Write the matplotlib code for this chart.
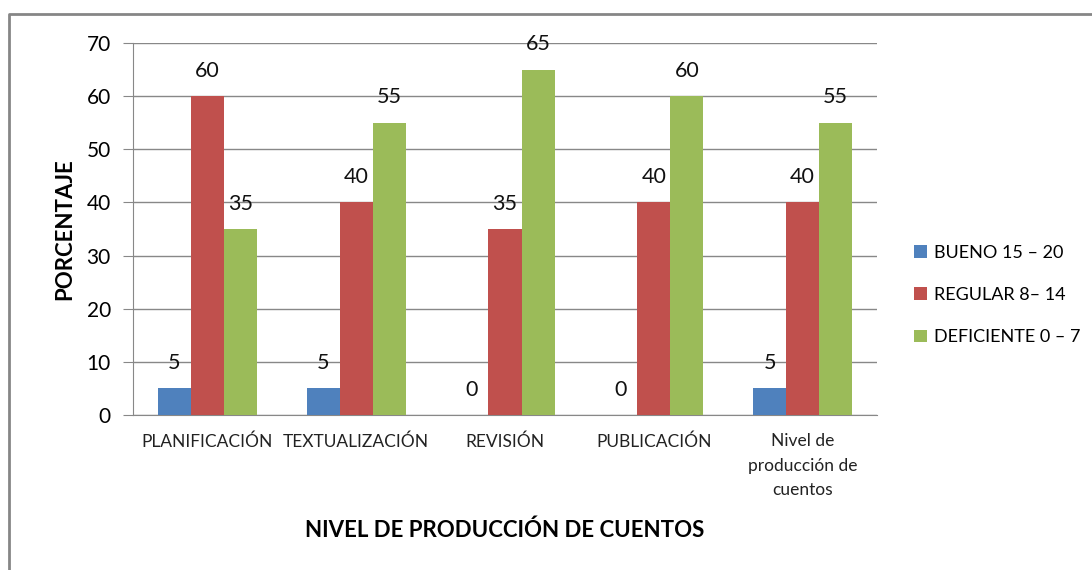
import numpy as np
import matplotlib.pyplot as plt
from matplotlib.lines import Line2D

plt.rcParams['font.family'] = ['Lato', 'DejaVu Sans']

categorias = ['PLANIFICACIÓN', 'TEXTUALIZACIÓN', 'REVISIÓN', 'PUBLICACIÓN',
              'Nivel de\nproducción de\ncuentos']
bueno = [5, 5, 0, 0, 5]
regular = [60, 40, 35, 40, 40]
deficiente = [35, 55, 65, 60, 55]
series = ['BUENO 15 – 20', 'REGULAR 8– 14', 'DEFICIENTE 0 – 7']
colores = ['#4F81BD', '#C0504D', '#9BBB59']

fig = plt.figure(figsize=(10.92, 5.70), dpi=100)
ax = fig.add_axes([133 / 1092, 1 - 415 / 570, 744 / 1092, 372 / 570])

x = np.arange(len(categorias))
w = 0.222
for i, (vals, nombre, c) in enumerate(zip([bueno, regular, deficiente], series, colores)):
    pos = x + (i - 1) * w
    ax.bar(pos, vals, w, color=c, label=nombre, zorder=3)
    for p, v in zip(pos, vals):
        ax.annotate(str(v), (p, v), xytext=(0, 11), textcoords='offset points',
                    ha='center', va='bottom', fontsize=15.5, color='#111111')

ax.set_xlim(-0.5, len(categorias) - 0.5)
ax.set_ylim(0, 70)
ax.set_yticks(range(0, 71, 10))
ax.set_xticks(x)
ax.set_xticklabels(categorias, fontsize=12.5, color='#222222', linespacing=1.65)
ax.tick_params(axis='y', labelsize=15, length=7, color='#888888', pad=9)
ax.tick_params(axis='x', length=0, pad=13)
ax.grid(axis='y', color='#888888', linewidth=1, zorder=0)
for s in ['top', 'right']:
    ax.spines[s].set_visible(False)
ax.spines['left'].set_color('#888888')
ax.spines['bottom'].set_color('#888888')

ax.set_ylabel('PORCENTAJE', fontsize=16, fontweight='bold', labelpad=8)
fig.text(505 / 1092, 1 - 530 / 570, 'NIVEL DE PRODUCCIÓN DE CUENTOS',
         fontsize=16, fontweight='bold', ha='center', va='center')

fig.legend(loc='center left', bbox_to_anchor=(914 / 1092, 1 - 295 / 570), frameon=False,
           fontsize=13, handlelength=0.7, handleheight=0.7, handletextpad=0.4,
           labelspacing=1.45, borderaxespad=0, borderpad=0)

# marco del gráfico
fig.add_artist(Line2D([9 / 1092, 9 / 1092, 1], [0, 1 - 14 / 570, 1 - 14 / 570],
                      color='#868686', linewidth=2))

fig.savefig('out.png', dpi=100)
